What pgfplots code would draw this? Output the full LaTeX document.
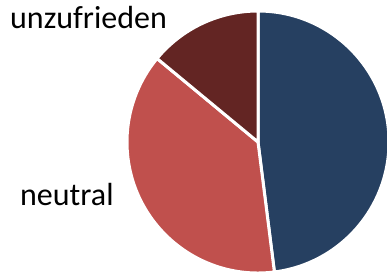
\documentclass[border=0pt]{standalone}
\usepackage{pgfplots}
\usepackage{pgfplotstable}
\pgfplotsset{compat=1.18}
\usepackage{fontspec}
\setmainfont{Carlito}
\definecolor{pieblue}{RGB}{38,64,97}
\definecolor{piered}{RGB}{192,80,77}
\definecolor{piedark}{RGB}{99,37,35}
\pgfplotstableread{
name value
zufrieden 48
neutral 38
unzufrieden 14
}\pietable
\begin{document}
\begin{tikzpicture}
\useasboundingbox (0,0) rectangle (387pt,273pt);
\clip (0,0) rectangle (387pt,273pt);
\pgfplotstablegetelem{0}{value}\of\pietable \let\va\pgfplotsretval
\pgfplotstablegetelem{1}{value}\of\pietable \let\vb\pgfplotsretval
\pgfplotstablegetelem{2}{value}\of\pietable \let\vc\pgfplotsretval
\pgfmathsetmacro\aS{90}
\pgfmathsetmacro\aA{90-3.6*\va}
\pgfmathsetmacro\aB{\aA-3.6*\vb}
\pgfmathsetmacro\aC{\aB-3.6*\vc}
\begin{axis}[
  at={(0,0)}, anchor=south west,
  hide axis, disabledatascaling,
  x=1pt, y=1pt,
  xmin=-258, xmax=129, ymin=-131, ymax=142,
  clip=false,
]
\addplot[draw=none, forget plot] coordinates {(0,0)};
\fill[pieblue, draw=white, line width=3pt, line join=round]
  (axis cs:0,0) -- (axis cs:{131*cos(\aS)},{131*sin(\aS)})
  arc[start angle=\aS, end angle=\aA, radius=131pt] -- cycle;
\fill[piered, draw=white, line width=3pt, line join=round]
  (axis cs:0,0) -- (axis cs:{131*cos(\aA)},{131*sin(\aA)})
  arc[start angle=\aA, end angle=\aB, radius=131pt] -- cycle;
\fill[piedark, draw=white, line width=3pt, line join=round]
  (axis cs:0,0) -- (axis cs:{131*cos(\aB)},{131*sin(\aB)})
  arc[start angle=\aB, end angle=\aC, radius=131pt] -- cycle;
\node[anchor=base west, inner sep=0pt, font=\fontsize{32}{38}\selectfont] at (axis cs:-248,113) {unzufrieden};
\node[anchor=base west, inner sep=0pt, font=\fontsize{32}{38}\selectfont] at (axis cs:-238,-63) {neutral};
\end{axis}
\end{tikzpicture}
\end{document}
